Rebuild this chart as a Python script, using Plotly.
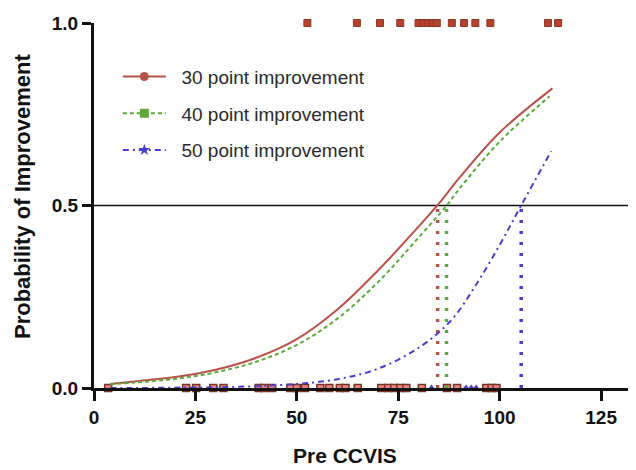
import plotly.graph_objects as go

# ---- data ----
curve_x = [4, 10, 20, 30, 40, 50, 60, 70, 80, 85, 90, 100, 113]
p30 = [0.011, 0.018, 0.030, 0.050, 0.083, 0.134, 0.215, 0.322, 0.442, 0.505, 0.575, 0.700, 0.821]
curve_x40 = [4, 10, 20, 30, 40, 50, 60, 70, 80, 87, 90, 100, 112.3]
p40 = [0.010, 0.015, 0.025, 0.043, 0.072, 0.118, 0.190, 0.290, 0.412, 0.501, 0.545, 0.675, 0.799]
curve_x50 = [4, 10, 20, 30, 40, 50, 60, 70, 80, 88, 94, 100, 105.3, 112.7]
p50 = [0.000, 0.000, 0.001, 0.002, 0.005, 0.011, 0.024, 0.053, 0.110, 0.185, 0.280, 0.392, 0.500, 0.649]

threshold = 0.5
x50_30, x50_40, x50_50 = 84.7, 86.9, 105.3

improved_x = [52.6, 64.8, 70.5, 75.5, 80.0, 81.3, 82.3, 83.5, 84.5, 88.2, 91.2, 94.0, 97.7, 111.9, 114.4]
not_improved_x = [3.5, 22.7, 25.2, 29.4, 31.9, 40.6, 42.0, 43.9, 48.4, 50.0, 52.0, 55.8, 58.0,
                  60.6, 62.0, 65.0, 70.8, 72.5, 74.0, 75.5, 77.0, 80.8, 87.0, 89.5, 96.7, 98.0, 99.2]
not_improved50_x = [83.2, 91.7, 93.0, 94.2]

series_names = ["30 point improvement", "40 point improvement", "50 point improvement"]
xticks = [0, 25, 50, 75, 100, 125]
yticks = [0, 0.5, 1.0]
yticklabels = ["0.0", "0.5", "1.0"]

RED = "#b5524a"
GREEN = "#5fa83a"
BLUE = "#4b3fc4"

fig = go.Figure()

# reference line
fig.add_trace(go.Scatter(x=[0, 140], y=[threshold, threshold], mode="lines",
                         line=dict(color="#111111", width=1.5), showlegend=False, hoverinfo="skip"))

# raw outcome markers
fig.add_trace(go.Scatter(x=not_improved_x, y=[0] * len(not_improved_x), mode="markers",
                         marker=dict(symbol="square", size=7, color="#e8878a",
                                     line=dict(color="#7b3522", width=1.5)),
                         cliponaxis=False, showlegend=False))
fig.add_trace(go.Scatter(x=not_improved50_x, y=[0] * len(not_improved50_x), mode="markers",
                         marker=dict(symbol="triangle-up", size=7, color=BLUE),
                         cliponaxis=False, showlegend=False))
fig.add_trace(go.Scatter(x=improved_x, y=[1] * len(improved_x), mode="markers",
                         marker=dict(symbol="square", size=7, color="#b8402e",
                                     line=dict(color="#8a3a26", width=1)),
                         cliponaxis=False, showlegend=False))

# vertical drop lines at p = 0.5
for xv, col in [(x50_30, RED), (x50_40, GREEN), (x50_50, BLUE)]:
    fig.add_trace(go.Scatter(x=[xv, xv], y=[0, threshold], mode="lines",
                             line=dict(color=col, width=3.5, dash="3px,8px"),
                             showlegend=False, cliponaxis=False))

# fitted curves
fig.add_trace(go.Scatter(x=curve_x, y=p30, mode="lines", line=dict(color=RED, width=2, shape="spline"),
                         showlegend=False))
fig.add_trace(go.Scatter(x=curve_x40, y=p40, mode="lines",
                         line=dict(color=GREEN, width=2, dash="4px,3px", shape="spline"), showlegend=False))
fig.add_trace(go.Scatter(x=curve_x50, y=p50, mode="lines",
                         line=dict(color=BLUE, width=2, dash="6px,4px,2px,4px", shape="spline"),
                         showlegend=False))

# legend entries
leg = [(series_names[0], RED, "solid", "circle"),
       (series_names[1], GREEN, "4px,3px", "square"),
       (series_names[2], BLUE, "6px,4px,2px,4px", "star")]
for i, (nm, col, dsh, sym) in enumerate(leg):
    fig.add_trace(go.Scatter(x=[None], y=[None], mode="lines+markers", name="\u00a0\u00a0" + nm,
                             legendgroup=f"g{i}",
                             line=dict(color=col, width=2, dash=dsh),
                             marker=dict(symbol=sym, size=9, color=col)))

# page body has an 8px margin: size the figure so the plot sits where the reference has it
fig.update_layout(
    width=628, height=462,
    margin=dict(l=86, r=0, t=15, b=82),
    plot_bgcolor="white", paper_bgcolor="white",
    font=dict(family="Liberation Sans, Arial, sans-serif", color="#111111"),
    showlegend=True,
    legend=dict(x=0.044, y=0.905, xanchor="left", yanchor="top",
                bgcolor="rgba(0,0,0,0)", tracegroupgap=9, itemwidth=43,
                font=dict(size=19, color="#2a2a2a")),
    xaxis=dict(range=[0, 133.6], tickvals=xticks, showline=True, linecolor="#111111", linewidth=2.5,
               ticks="outside", ticklen=10, tickwidth=2.5, tickcolor="#111111",
               showgrid=False, zeroline=False,
               tickfont=dict(size=19, family="Liberation Sans, Arial, sans-serif", weight="bold")),
    yaxis=dict(range=[0, 1], tickvals=yticks, ticktext=yticklabels, showline=True, linecolor="#111111",
               linewidth=3, ticks="outside", ticklen=9, tickwidth=2.5, tickcolor="#111111",
               showgrid=False, zeroline=False,
               tickfont=dict(size=19, family="Liberation Sans, Arial, sans-serif", weight="bold")),
    annotations=[
        dict(text="<b>Pre CCVIS</b>", xref="paper", yref="paper", x=(345 - 94) / 542, y=-(455 - 388) / 365,
             xanchor="center", yanchor="middle", showarrow=False, font=dict(size=21)),
        dict(text="<b>Probability of Improvement</b>", xref="paper", yref="paper",
             x=(22 - 94) / 542, y=(388 - 197) / 365, textangle=-90,
             xanchor="center", yanchor="middle", showarrow=False, font=dict(size=22)),
    ],
)

fig.write_html("out.html")
